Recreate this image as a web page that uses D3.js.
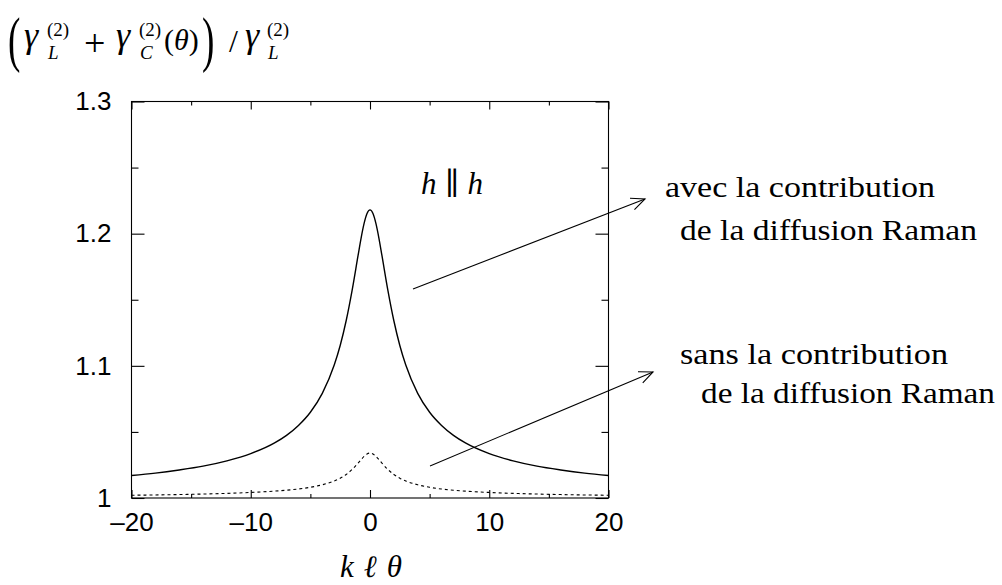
<!DOCTYPE html>
<html>
<head>
<meta charset="utf-8">
<script src="https://cdn.jsdelivr.net/npm/d3@7"></script>
<style>
  html, body { margin: 0; padding: 0; background: #fff; }
  svg { display: block; }
  .tick text { font-family: "Liberation Sans", Arial, sans-serif; font-size: 26px; fill: #000; }
</style>
</head>
<body>
<svg id="chart" width="1002" height="585"></svg>
<script>
// ---- data ----
const kltheta = [-20,-18,-16,-14,-12,-10,-8,-7,-6,-5,-4,-3,-2.5,-2,-1.5,-1,-0.75,-0.5,-0.25,
                 0,
                 0.25,0.5,0.75,1,1.5,2,2.5,3,4,5,6,7,8,10,12,14,16,18,20];
const withRaman = [1.0170,1.0188,1.0212,1.0241,1.0281,1.0336,1.0417,1.0474,1.0549,1.0649,1.0792,1.1006,1.1154,1.1341,1.1571,1.1835,1.1965,1.2076,1.2153,
                   1.2180,
                   1.2153,1.2076,1.1965,1.1835,1.1571,1.1341,1.1154,1.1006,1.0792,1.0649,1.0549,1.0474,1.0417,1.0336,1.0281,1.0241,1.0212,1.0188,1.0170];
const withoutRaman = [1.0021,1.0023,1.0026,1.0030,1.0035,1.0042,1.0052,1.0059,1.0068,1.0081,1.0100,1.0129,1.0150,1.0178,1.0216,1.0264,1.0290,1.0315,1.0333,
                      1.0340,
                      1.0333,1.0315,1.0290,1.0264,1.0216,1.0178,1.0150,1.0129,1.0100,1.0081,1.0068,1.0059,1.0052,1.0042,1.0035,1.0030,1.0026,1.0023,1.0021];
const xMajorTicks = [-20,-10,0,10,20];
const xMajorLabels = ["\u201320","\u201310","0","10","20"];
const xMinorTicks = [-15,-5,5,15];
const yMajorTicks = [1,1.1,1.2,1.3];
const yMajorLabels = ["1","1.1","1.2","1.3"];
const yMinorTicks = [1.05,1.15,1.25];

const SERIF = "'Liberation Serif', 'DejaVu Serif', 'Noto Serif', 'Times New Roman', Times, serif";

// ---- layout ----
const svg = d3.select("#chart");
const L = 131.5, R = 608.5, T = 101.5, B = 498;
const x = d3.scaleLinear().domain([-20,20]).range([L,R]);
const y = d3.scaleLinear().domain([1,1.3]).range([B,T]);

function clean(g){ g.select(".domain").remove(); g.selectAll(".tick line").attr("stroke","#000").attr("stroke-width",1.1); }

// bottom axis
svg.append("g").attr("transform",`translate(0,${B})`)
  .call(d3.axisBottom(x).tickValues(xMajorTicks).tickSize(-8).tickPadding(15)
        .tickFormat((d,i)=>xMajorLabels[i]))
  .call(clean);
svg.append("g").attr("transform",`translate(0,${B})`)
  .call(d3.axisBottom(x).tickValues(xMinorTicks).tickSize(-4).tickFormat(""))
  .call(clean);
// top axis (mirror)
svg.append("g").attr("transform",`translate(0,${T})`)
  .call(d3.axisTop(x).tickValues(xMajorTicks).tickSize(-8).tickFormat(""))
  .call(clean);
svg.append("g").attr("transform",`translate(0,${T})`)
  .call(d3.axisTop(x).tickValues(xMinorTicks).tickSize(-4).tickFormat(""))
  .call(clean);
// left axis
svg.append("g").attr("transform",`translate(${L},0)`)
  .call(d3.axisLeft(y).tickValues(yMajorTicks).tickSize(-13).tickPadding(20)
        .tickFormat((d,i)=>yMajorLabels[i]))
  .call(clean);
svg.append("g").attr("transform",`translate(${L},0)`)
  .call(d3.axisLeft(y).tickValues(yMinorTicks).tickSize(-7).tickFormat(""))
  .call(clean);
// right axis (mirror)
svg.append("g").attr("transform",`translate(${R},0)`)
  .call(d3.axisRight(y).tickValues(yMajorTicks).tickSize(-13).tickFormat(""))
  .call(clean);
svg.append("g").attr("transform",`translate(${R},0)`)
  .call(d3.axisRight(y).tickValues(yMinorTicks).tickSize(-7).tickFormat(""))
  .call(clean);

// frame
svg.append("rect").attr("x",L).attr("y",T).attr("width",R-L).attr("height",B-T)
  .attr("fill","none").attr("stroke","#000").attr("stroke-width",1.1);

// curves
svg.append("clipPath").attr("id","clip").append("rect")
  .attr("x",L).attr("y",T).attr("width",R-L).attr("height",B-T);
const line = d3.line().x((d,i)=>x(kltheta[i])).y(d=>y(d)).curve(d3.curveMonotoneX);
svg.append("path").attr("clip-path","url(#clip)").attr("d",line(withRaman))
  .attr("fill","none").attr("stroke","#000").attr("stroke-width",1.4);
svg.append("path").attr("clip-path","url(#clip)").attr("d",line(withoutRaman))
  .attr("fill","none").attr("stroke","#000").attr("stroke-width",1.1).attr("stroke-dasharray","3,3");

// arrows (open V heads)
function arrow(x1,y1,x2,y2){
  const g = svg.append("g").attr("stroke","#000").attr("stroke-width",1.1).attr("fill","none");
  g.append("line").attr("x1",x1).attr("y1",y1).attr("x2",x2).attr("y2",y2);
  const a = Math.atan2(y2-y1,x2-x1), len = 15, sp = 0.42;
  const p1 = [x2 - len*Math.cos(a-sp), y2 - len*Math.sin(a-sp)];
  const p2 = [x2 - len*Math.cos(a+sp), y2 - len*Math.sin(a+sp)];
  g.append("path").attr("d",`M${p1[0]},${p1[1]}L${x2},${y2}L${p2[0]},${p2[1]}`);
}
arrow(413, 289, 645, 199);
arrow(430, 466, 653, 372);

// annotation texts
function txt(xp, yp, s, size, italic, len){
  const t = svg.append("text").attr("font-family",SERIF).attr("fill","#000")
    .attr("x",xp).attr("y",yp)
    .attr("font-size",size).attr("font-style",italic?"italic":"normal").text(s);
  if (len) t.attr("textLength",len).attr("lengthAdjust","spacingAndGlyphs");
  return t;
}
txt(665, 197, "avec la contribution", 29, false, 270);
txt(680, 240, "de la diffusion Raman", 29, false, 297);
txt(680, 364, "sans la contribution", 29, false, 268);
txt(701, 403, "de la diffusion Raman", 29, false, 294);

// h || h
const hh = svg.append("text").attr("font-family",SERIF).attr("x",421).attr("y",194).attr("font-size",31)
  .attr("textLength",62).attr("lengthAdjust","spacing");
hh.append("tspan").attr("font-style","italic").text("h");
hh.append("tspan").text(" \u2225 ");
hh.append("tspan").attr("font-style","italic").text("h");

// x axis title
svg.append("text").attr("font-family",SERIF).attr("x",340).attr("y",577)
  .attr("font-size",31).attr("font-style","italic")
  .attr("textLength",62).attr("lengthAdjust","spacing")
  .text("k \u2113 \u03B8");

// y axis title (top-left)
function bigParen(xp, s){
  svg.append("text").attr("font-family",SERIF).attr("font-size",62)
    .attr("transform",`translate(${xp},60) scale(0.6,1)`).text(s);
}
bigParen(8, "(");
txt(24, 47, "\u03B3", 36, true);
txt(47, 36, "(2)", 19);
txt(48, 59, "L", 19, true);
txt(84, 56, "+", 38);
txt(116, 47, "\u03B3", 36, true);
txt(139, 36, "(2)", 19);
txt(140, 59, "C", 19, true);
const th = svg.append("text").attr("font-family",SERIF).attr("x",164).attr("y",50).attr("font-size",30);
th.append("tspan").text("(");
th.append("tspan").attr("font-style","italic").text("\u03B8");
th.append("tspan").text(")");
bigParen(202, ")");
txt(229, 52, "/", 32);
txt(245, 47, "\u03B3", 36, true);
txt(267, 36, "(2)", 19);
txt(268, 59, "L", 19, true);
</script>
</body>
</html>
